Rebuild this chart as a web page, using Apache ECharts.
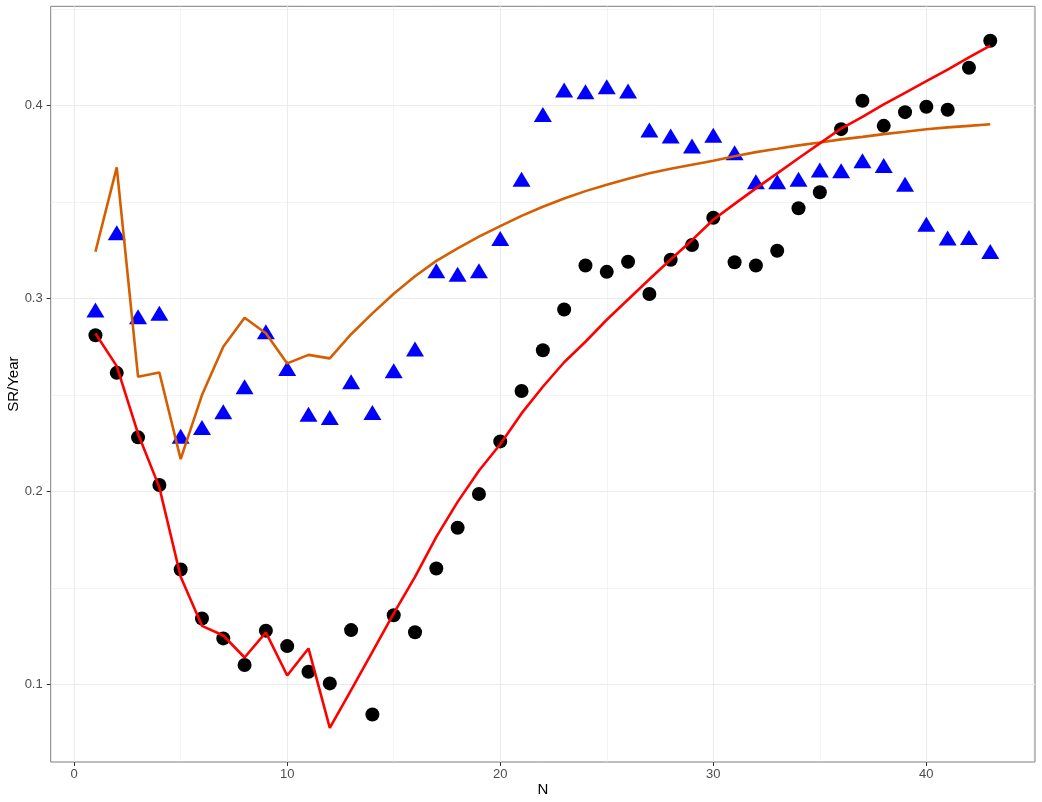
<!DOCTYPE html>
<html>
<head>
<meta charset="utf-8">
<script src="https://cdn.jsdelivr.net/npm/echarts@6/dist/echarts.min.js"></script>
<style>
html,body{margin:0;padding:0;background:#fff;}
#chart{width:1042px;height:802px;}
</style>
</head>
<body>
<div id="chart"></div>
<script>
// ---- data ----
const N = [1,2,3,4,5,6,7,8,9,10,11,12,13,14,15,16,17,18,19,20,21,22,23,24,25,26,27,28,29,30,31,32,33,34,35,36,37,38,39,40,41,42,43];
const srObserved = [0.281,0.2615,0.2281,0.2034,0.1597,0.1343,0.124,0.1102,0.128,0.120,0.1067,0.1007,0.1283,0.0846,0.136,0.1272,0.1602,0.1813,0.1988,0.226,0.2521,0.2732,0.2943,0.3171,0.3138,0.319,0.3023,0.3201,0.3277,0.3418,0.3188,0.3171,0.3247,0.3467,0.355,0.3877,0.4024,0.3894,0.3965,0.3993,0.3977,0.4195,0.4335];
const srTriangle = [0.294,0.334,0.2905,0.2923,0.2287,0.2332,0.2413,0.2543,0.2828,0.2638,0.240,0.2384,0.2569,0.241,0.2626,0.2738,0.3144,0.3126,0.3144,0.3311,0.3617,0.3953,0.408,0.407,0.4097,0.4074,0.3872,0.3841,0.3789,0.3845,0.3755,0.3604,0.3604,0.3617,0.3665,0.3661,0.3713,0.3689,0.3592,0.3385,0.3313,0.3316,0.3244];
const srRedLine = [0.2819,0.265,0.230,0.2022,0.1559,0.1305,0.1255,0.1141,0.1271,0.1048,0.1188,0.0777,0.0972,0.117,0.137,0.1559,0.1766,0.1947,0.2108,0.2245,0.2405,0.2543,0.267,0.2776,0.289,0.2995,0.31,0.3202,0.3302,0.3408,0.349,0.357,0.3648,0.3726,0.3803,0.388,0.394,0.4005,0.4065,0.4125,0.4185,0.4248,0.4309];
const srOrangeLine = [0.3242,0.3679,0.2595,0.2617,0.2168,0.250,0.275,0.290,0.282,0.2664,0.2708,0.269,0.2815,0.2923,0.3025,0.3115,0.3195,0.326,0.332,0.3375,0.3428,0.3475,0.3518,0.3556,0.3589,0.362,0.3648,0.3672,0.3693,0.3713,0.3737,0.3758,0.3775,0.3793,0.3808,0.3824,0.3837,0.3851,0.3863,0.3876,0.3886,0.3894,0.3902];
const xTicks = [0,10,20,30,40];
const xMinor = [5,15,25,35,45];
const yTicks = [0.1,0.2,0.3,0.4];
const yMinor = [0.15,0.25,0.35,0.45];

const pairs = (ys) => N.map((n,i) => [n, ys[i]]);

const gridLines = [];
xTicks.forEach(v => gridLines.push({xAxis: v, lineStyle:{width:1.1}}));
xMinor.forEach(v => gridLines.push({xAxis: v, lineStyle:{width:0.55}}));
yTicks.forEach(v => gridLines.push({yAxis: v, lineStyle:{width:1.1}}));
yMinor.forEach(v => gridLines.push({yAxis: v, lineStyle:{width:0.55}}));

const chart = echarts.init(document.getElementById('chart'), null, {renderer:'canvas'});
const font = 'Liberation Sans, Arial, Helvetica, sans-serif';
chart.setOption({
  animation:false,
  backgroundColor:'#ffffff',
  textStyle:{fontFamily:font},
  grid:{left:50.7, right:7, top:6.3, bottom:40, show:true, borderColor:'#7f7f7f', borderWidth:1, backgroundColor:'transparent', containLabel:false, outerBoundsMode:'none'},
  xAxis:{
    type:'value', min:-1.1, max:45.1,
    name:'N', nameLocation:'middle', nameGap:20, nameMoveOverlap:false,
    nameTextStyle:{fontSize:15, color:'#000', fontFamily:font},
    axisLine:{show:false, onZero:false},
    axisTick:{show:true, length:4, lineStyle:{color:'#333333', width:1}, customValues:xTicks},
    axisLabel:{show:true, fontSize:13, color:'#4d4d4d', margin:6, fontFamily:font, customValues:xTicks},
    splitLine:{show:false}, minorSplitLine:{show:false}
  },
  yAxis:{
    type:'value', min:0.06, max:0.4513,
    name:'SR/Year', nameLocation:'middle', nameGap:29, nameRotate:90, nameMoveOverlap:false,
    nameTextStyle:{fontSize:15, color:'#000', fontFamily:font},
    axisLine:{show:false, onZero:false},
    axisTick:{show:true, length:4, lineStyle:{color:'#333333', width:1}, customValues:yTicks},
    axisLabel:{show:true, fontSize:13, color:'#4d4d4d', margin:8, fontFamily:font, customValues:yTicks, formatter:(v)=>String(Math.round(v*10)/10)},
    splitLine:{show:false}, minorSplitLine:{show:false}
  },
  series:[
    {type:'line', data:[], silent:true, z:0, zlevel:0,
     markLine:{silent:true, z:0, zlevel:0, symbol:['none','none'], label:{show:false}, animation:false,
       lineStyle:{color:'#ebebeb', type:'solid'}, emphasis:{disabled:true}, data:gridLines}},
    {name:'triangles', type:'scatter', data:pairs(srTriangle), symbol:'triangle', symbolSize:[18,15],
     itemStyle:{color:'#0000ff', opacity:1}, z:6},
    {name:'points', type:'scatter', data:pairs(srObserved), symbol:'circle', symbolSize:14,
     itemStyle:{color:'#000000', opacity:1}, z:6},
    {name:'orange', type:'line', data:pairs(srOrangeLine), showSymbol:false, symbol:'none',
     lineStyle:{color:'#d55e00', width:2.6}, z:7},
    {name:'red', type:'line', data:pairs(srRedLine), showSymbol:false, symbol:'none',
     lineStyle:{color:'#ff0000', width:2.6}, z:8}
  ]
});
</script>
</body>
</html>
